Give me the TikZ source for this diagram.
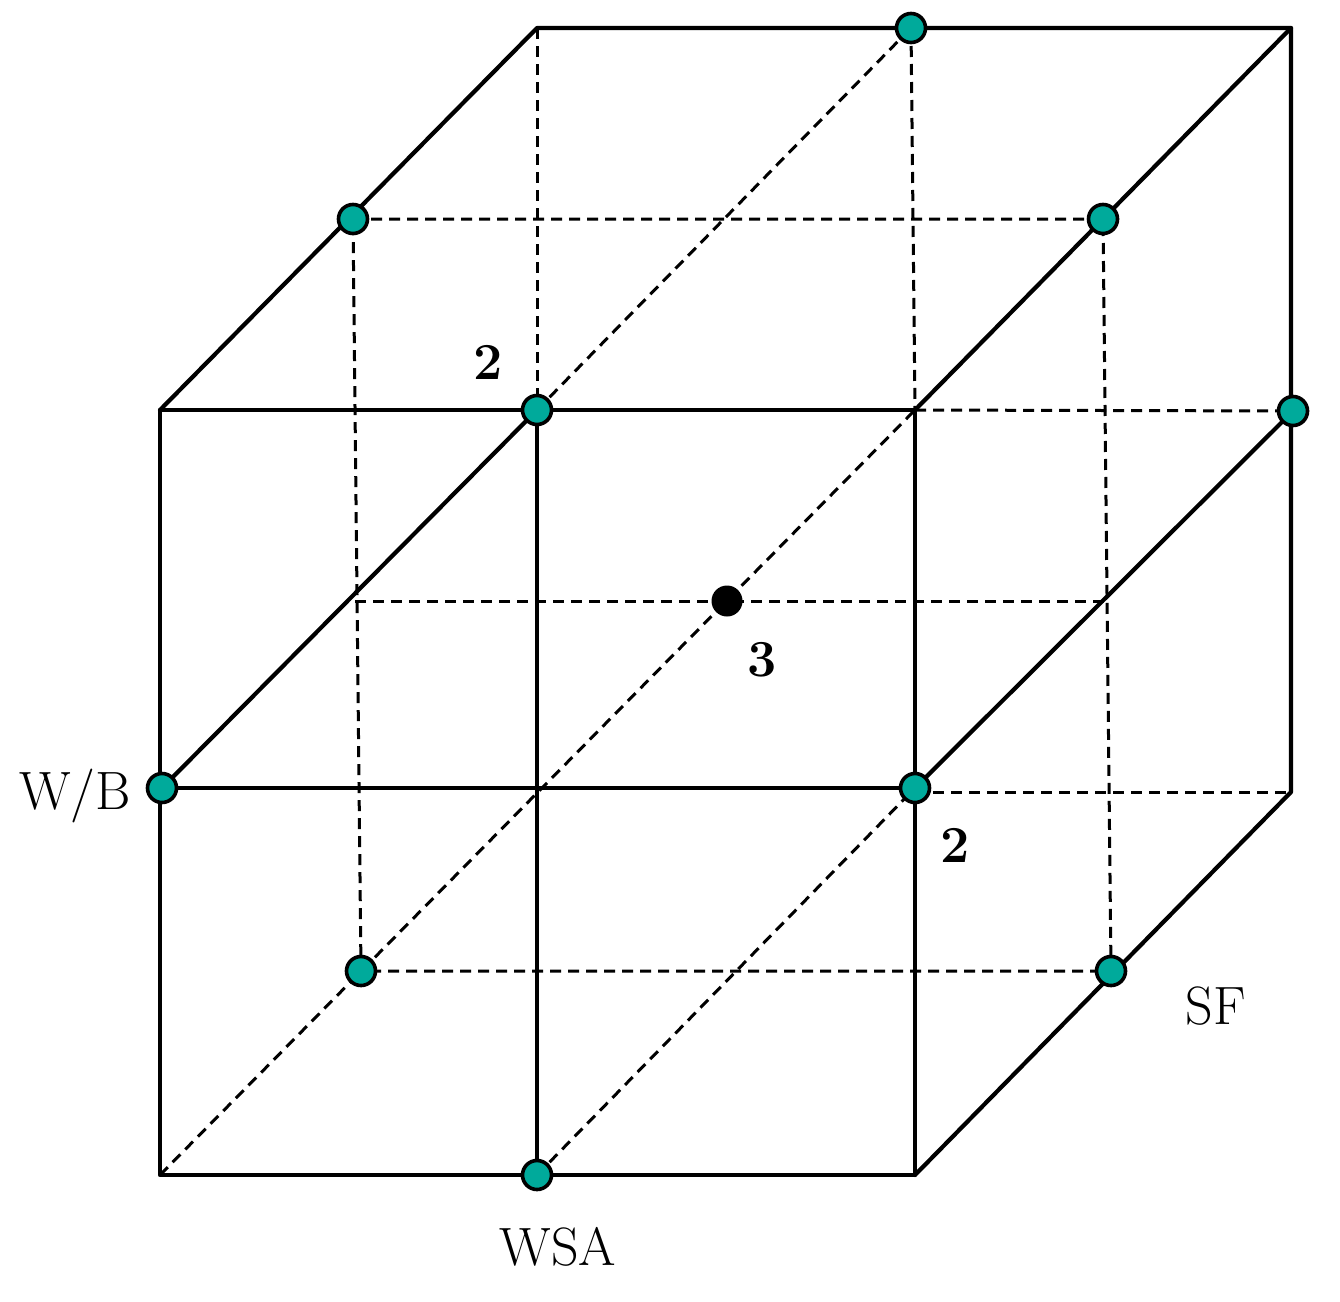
\documentclass[tikz,border=0pt]{standalone}
\definecolor{teal1}{RGB}{0,170,155}
\tikzset{
  solidedge/.style={line width=4.2pt, line cap=round, line join=round},
  hidden/.style={line width=3pt, dash pattern=on 11pt off 7pt},
  pt/.style={circle, fill=teal1, draw=black, line width=3.6pt, minimum size=29pt, inner sep=0pt},
  ctr/.style={circle, fill=black, minimum size=31pt, inner sep=0pt},
  lab/.style={font=\fontsize{54}{60}\selectfont, inner sep=0pt},
  num/.style={font=\fontsize{52}{58}\selectfont\bfseries, inner sep=0pt}
}
\begin{document}
\begin{tikzpicture}[x=1pt,y=-1pt]
\useasboundingbox (0,0) rectangle (1340,1301);
% corners
\coordinate (FTL) at (160,410);
\coordinate (FTR) at (915,410);
\coordinate (FBR) at (915,1175);
\coordinate (FBL) at (160,1175);
\coordinate (BTL) at (537,28);
\coordinate (BTR) at (1291,28);
\coordinate (BBR) at (1291,792);
% mid-plane
\coordinate (MTL) at (353,219);
\coordinate (MTR) at (1103,219);
\coordinate (MBR) at (1111,971);
\coordinate (MBL) at (361,971);
\coordinate (ML) at (355,601);
\coordinate (MR) at (1106,601);
% edge mid points
\coordinate (FT) at (537,410);
\coordinate (FB) at (537,1175);
\coordinate (FL) at (162,788);
\coordinate (FR) at (915,788);
\coordinate (FRd) at (915,792);
\coordinate (BT) at (911,28);
\coordinate (BR) at (1293,411);
\coordinate (C) at (727,601);
% hidden lines
\draw[hidden] (MTL) -- (MTR) -- (MBR) -- (MBL) -- cycle;
\draw[hidden] (ML) -- (MR);
\draw[hidden] (BTL) -- (FT);
\draw[hidden] (BT) -- (FTR);
\draw[hidden] (FT) -- (BT);
\draw[hidden] (FTR) -- (BR);
\draw[hidden] (FRd) -- (BBR);
\draw[hidden] (FBL) -- (FTR);
\draw[hidden] (FB) -- (FR);
% visible edges
\draw[solidedge] (FTL) -- (FTR) -- (FBR) -- (FBL) -- cycle;
\draw[solidedge] (FTL) -- (BTL) -- (BTR) -- (BBR) -- (FBR);
\draw[solidedge] (FTR) -- (BTR);
\draw[solidedge] (FL) -- (FR);
\draw[solidedge] (FT) -- (FB);
\draw[solidedge] (FL) -- (FT);
\draw[solidedge] (FR) -- (BR);
% design points
\node[pt] (pFT) at (FT) {};
\node[pt] (pFB) at (FB) {};
\node[pt] (pFL) at (FL) {};
\node[pt] (pFR) at (FR) {};
\node[pt] (pBT) at (BT) {};
\node[pt] (pBR) at (BR) {};
\node[pt] (pMTL) at (MTL) {};
\node[pt] (pMTR) at (MTR) {};
\node[pt] (pMBR) at (MBR) {};
\node[pt] (pMBL) at (MBL) {};
\node[ctr] (pC) at (C) {};
% labels
\node[num] (l2a) at (488,362) {2};
\node[num] (l3) at (762,660) {3};
\node[num] (l2b) at (955,845) {2};
\node[lab] (lwb) at (75,796) {W/B};
\node[lab] (lsf) at (1216,1006) {SF};
\node[lab] (lwsa) at (558,1247) {WSA};
\end{tikzpicture}
\end{document}
